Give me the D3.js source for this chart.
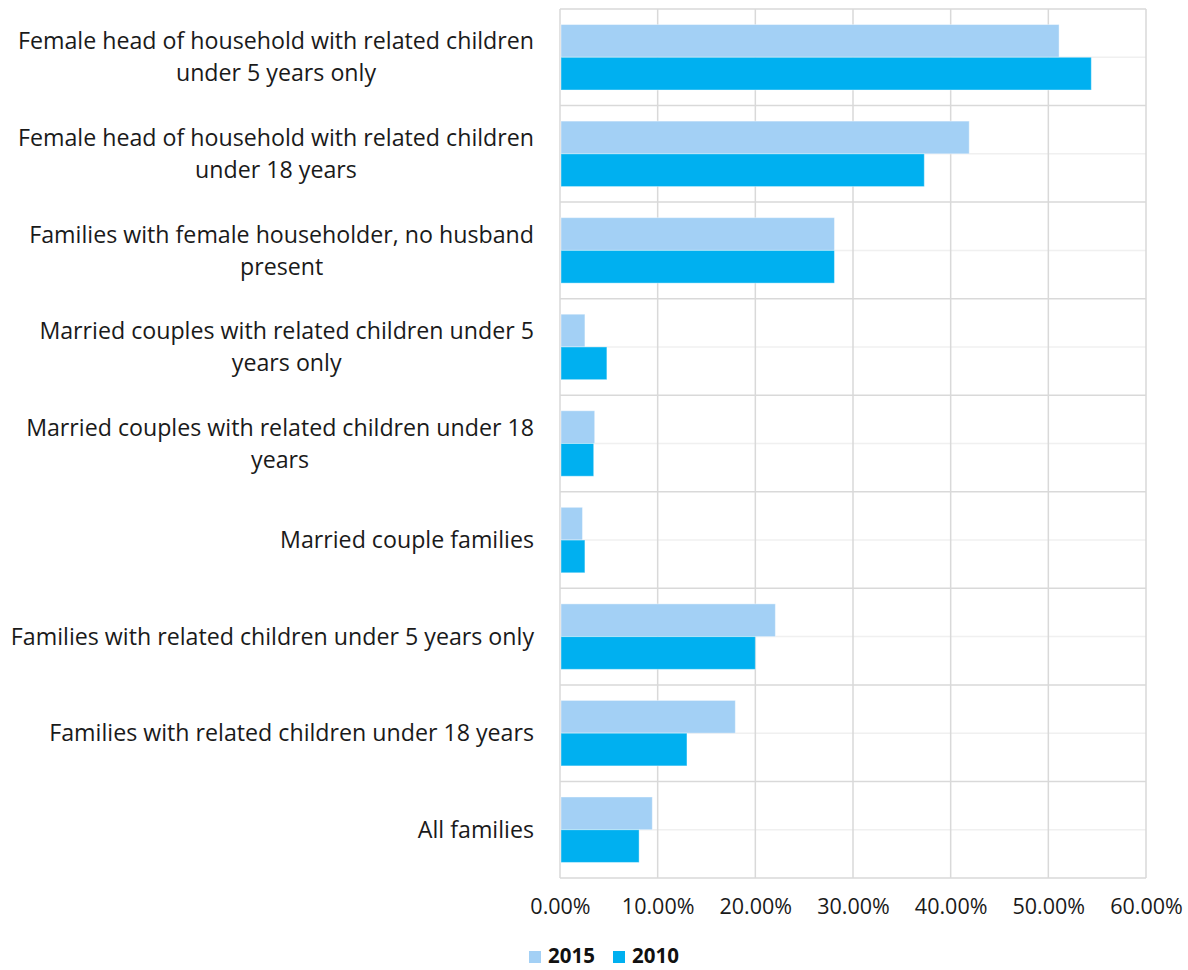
<!DOCTYPE html>
<html><head><meta charset="utf-8">
<script src="https://cdn.jsdelivr.net/npm/d3@7"></script>
<style>
html,body{margin:0;padding:0;background:#fff;}
svg{display:block;font-family:"Open Sans",Lato,sans-serif;}
</style></head>
<body><svg id="chart" width="1188" height="970"></svg>
<script>
const categories = [
  "Female head of household with related children\nunder 5 years only",
  "Female head of household with related children\nunder 18 years",
  "Families with female householder, no husband\npresent",
  "Married couples with related children under 5\nyears only",
  "Married couples with related children under 18\nyears",
  "Married couple families",
  "Families with related children under 5 years only",
  "Families with related children under 18 years",
  "All families"
];
const seriesNames = ["2015", "2010"];
const values2015 = [51.1, 41.9, 28.1, 2.55, 3.55, 2.3, 22.05, 17.95, 9.45];
const values2010 = [54.4, 37.3, 28.1, 4.8, 3.45, 2.55, 20.0, 13.0, 8.1];
const xTicks = [0, 10, 20, 30, 40, 50, 60];
const colors = ["#a3d0f5", "#00b0f0"];

const svg = d3.select("#chart");
const pLeft = 560, pRight = 1146, pTop = 9, pBottom = 878;

const x = d3.scaleLinear().domain([0, 60]).range([pLeft, pRight]);
const y = d3.scaleBand().domain(d3.range(categories.length)).range([pTop, pBottom]).paddingInner(0).paddingOuter(0);
const inner = d3.scaleBand().domain(seriesNames).range([0, y.bandwidth()]).paddingInner(0).paddingOuter(0.475);

// center (minor) horizontal lines
svg.append("g").selectAll("line").data(d3.range(categories.length)).join("line")
  .attr("x1", pLeft).attr("x2", pRight)
  .attr("y1", d => y(d) + y.bandwidth()/2).attr("y2", d => y(d) + y.bandwidth()/2)
  .attr("stroke", "#f0f0f0").attr("stroke-width", 1.5);

// band boundaries
svg.append("g").selectAll("line").data(d3.range(categories.length + 1)).join("line")
  .attr("x1", pLeft).attr("x2", pRight)
  .attr("y1", d => d < categories.length ? y(d) : pBottom).attr("y2", d => d < categories.length ? y(d) : pBottom)
  .attr("stroke", "#d9d9d9").attr("stroke-width", 1.5);

// vertical gridlines
svg.append("g").selectAll("line").data(xTicks).join("line")
  .attr("x1", d => x(d)).attr("x2", d => x(d))
  .attr("y1", pTop).attr("y2", pBottom)
  .attr("stroke", "#d9d9d9").attr("stroke-width", 1.5);

// bars
const series = [values2015, values2010];
series.forEach((vals, si) => {
  svg.append("g").selectAll("rect").data(vals).join("rect")
    .attr("x", x(0) + 1)
    .attr("y", (d, i) => y(i) + inner(seriesNames[si]))
    .attr("width", d => x(d) - x(0) - 1)
    .attr("height", inner.bandwidth())
    .attr("fill", colors[si])
    .attr("stroke", "#ffffff").attr("stroke-opacity", 0.4).attr("stroke-width", 1);
});

// x axis labels
const xAxis = d3.axisBottom(x).tickValues(xTicks).tickSize(0).tickPadding(0)
  .tickFormat(d => d3.format(".2f")(d) + "%");
const gx = svg.append("g").attr("transform", `translate(0,${pBottom + 21})`).call(xAxis);
gx.select(".domain").remove();
gx.selectAll("text").attr("font-size", 21.5).attr("fill", "#1a1a1a").attr("font-family", "'Open Sans', Lato, sans-serif");

// category labels
const labelRight = 534, lineH = 32, fs = 23.2;
const lg = svg.append("g").attr("font-size", fs).attr("fill", "#1a1a1a");
categories.forEach((c, i) => {
  const lines = c.split("\n");
  const cy = y(i) + y.bandwidth()/2;
  const t = lg.append("g");
  const texts = lines.map((ln, k) => t.append("text")
    .attr("y", cy + (k - (lines.length - 1)/2) * lineH)
    .attr("dy", "0.35em")
    .attr("text-anchor", "middle")
    .text(ln));
  const maxW = d3.max(texts, tx => tx.node().getComputedTextLength());
  texts.forEach(tx => tx.attr("x", labelRight - maxW/2));
});

// legend
const legend = svg.append("g");
const legendItems = [{name: seriesNames[0], c: colors[0], x: 529}, {name: seriesNames[1], c: colors[1], x: 613}];
legendItems.forEach(it => {
  legend.append("rect").attr("x", it.x).attr("y", 951).attr("width", 12).attr("height", 12).attr("fill", it.c);
  legend.append("text").attr("x", it.x + 19).attr("y", 963)
    .attr("font-size", 20.5).attr("font-weight", "bold").attr("fill", "#111").text(it.name);
});
</script></body></html>
